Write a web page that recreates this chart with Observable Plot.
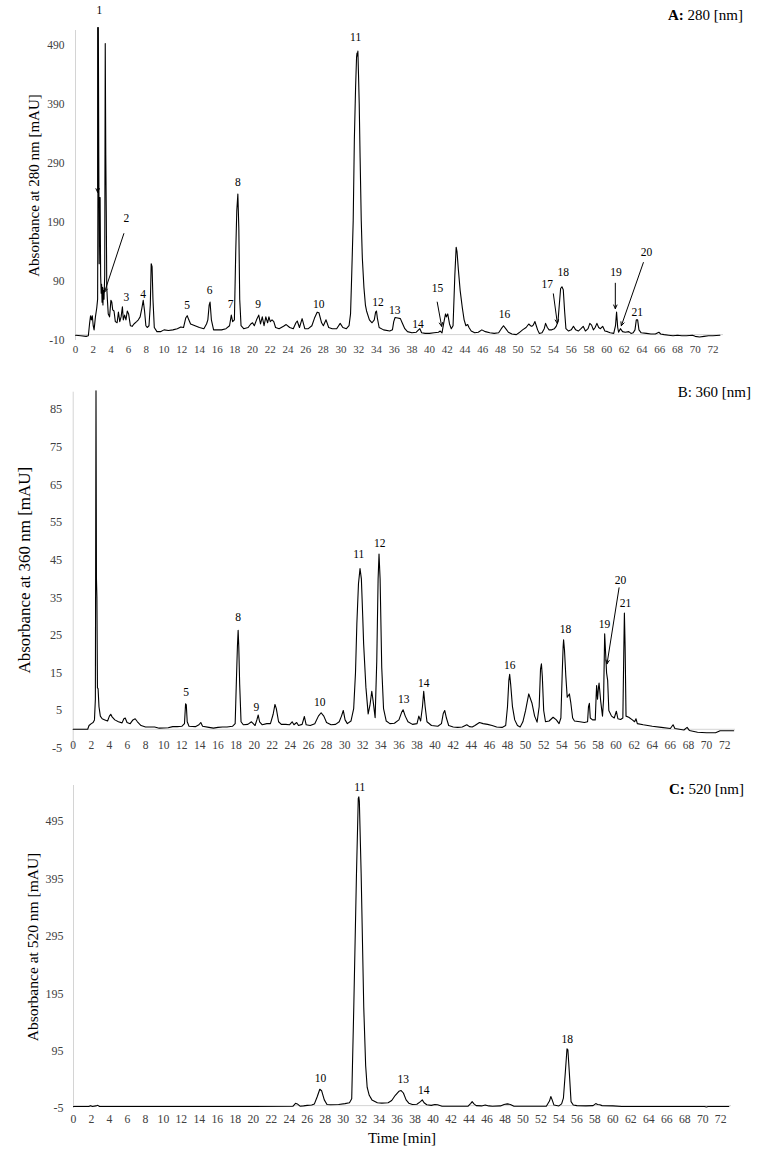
<!DOCTYPE html>
<html><head><meta charset="utf-8">
<script src="https://cdn.jsdelivr.net/npm/d3@7"></script>
<script src="https://cdn.jsdelivr.net/npm/@observablehq/plot@0.6"></script>
<style>
body{margin:0;background:#fff;}
#root{position:relative;width:760px;height:1152px;font-family:"Liberation Serif","Times New Roman",serif;color:#000;}
#root svg, #root svg text{font-family:"Liberation Serif","Times New Roman",serif !important;}
.ttl{position:absolute;font-size:15px;line-height:16px;white-space:nowrap;}
svg{display:block;overflow:visible;}
</style></head><body>
<div id="root">
  <div id="pA"></div><div id="pB"></div><div id="pC"></div>
  <div class="ttl" style="right:17px;top:7px"><b>A:</b> 280 [nm]</div>
  <div class="ttl" style="right:9px;top:384px">B: 360 [nm]</div>
  <div class="ttl" style="right:16px;top:781px"><b>C:</b> 520 [nm]</div>
  <div class="ttl" style="left:402px;top:1130px;transform:translateX(-50%)">Time [min]</div>
</div>
<script>
// ---------- data ----------
const timeTicks = d3.range(0, 73, 2);
const yTicksA = [-10, 90, 190, 290, 390, 490];
const yTicksB = [-5, 5, 15, 25, 35, 45, 55, 65, 75, 85];
const yTicksC = [-5, 95, 195, 295, 395, 495];

// chromatogram A (280 nm): [time min, absorbance mAU]
const traceA = [[0,-1],[0.6,-2],[1.2,-3],[1.45,-2],[1.6,20],[1.7,32],[1.8,25],[1.9,32],[2.0,15],[2.1,8],[2.25,30],[2.4,45],[2.5,60],[2.58,520],[2.63,300],[2.68,120],[2.72,232],[2.78,232],[2.84,100],[2.9,70],[2.95,85],[3.0,55],[3.05,80],[3.1,50],[3.15,75],[3.22,60],[3.3,100],[3.36,493],[3.42,306],[3.48,200],[3.53,80],[3.6,60],[3.7,35],[3.85,30],[4.0,58],[4.1,55],[4.2,42],[4.35,40],[4.5,22],[4.7,20],[4.85,38],[5.0,22],[5.15,30],[5.3,47],[5.4,25],[5.55,33],[5.7,25],[5.85,40],[6.0,35],[6.2,15],[6.4,14],[6.6,18],[6.9,22],[7.1,25],[7.3,30],[7.5,45],[7.65,58],[7.8,40],[7.95,15],[8.1,12],[8.3,15],[8.45,50],[8.55,120],[8.65,115],[8.75,60],[8.9,12],[9.2,5],[9.6,5],[10.0,8],[10.5,7],[11.0,8],[11.5,10],[11.9,13],[12.2,12],[12.45,28],[12.62,32],[12.8,25],[13.0,18],[13.5,15],[14.0,12],[14.5,10],[14.8,18],[14.95,25],[15.1,50],[15.2,55],[15.35,25],[15.6,8],[16.0,8],[16.5,8],[17.0,10],[17.4,15],[17.6,33],[17.75,22],[17.95,25],[18.1,140],[18.22,210],[18.34,238],[18.45,180],[18.55,60],[18.7,15],[19.0,10],[19.5,12],[19.8,18],[20.0,20],[20.2,15],[20.45,25],[20.7,33],[20.9,18],[21.1,30],[21.3,15],[21.5,30],[21.7,20],[21.85,30],[22.0,22],[22.2,25],[22.4,22],[22.6,12],[23.0,10],[23.5,14],[23.8,17],[24.2,12],[24.6,10],[24.9,20],[25.05,23],[25.3,12],[25.6,27],[25.9,10],[26.3,10],[26.7,15],[27.0,28],[27.3,38],[27.5,37],[27.8,20],[28.0,15],[28.3,25],[28.6,12],[29.0,10],[29.5,10],[29.9,19],[30.2,12],[30.6,10],[30.9,15],[31.07,35],[31.2,100],[31.37,193],[31.5,330],[31.64,419],[31.75,470],[31.8,477],[31.85,472],[31.9,480],[31.97,440],[32.05,391],[32.15,300],[32.28,193],[32.4,130],[32.58,80],[32.75,50],[32.88,40],[33.2,25],[33.5,20],[33.75,25],[33.9,38],[34.0,40],[34.1,28],[34.3,12],[34.8,8],[35.5,6],[35.8,8],[35.95,22],[36.1,29],[36.4,28],[36.7,27],[36.9,20],[37.2,10],[37.5,5],[38.0,3],[38.5,4],[38.75,8],[38.9,10],[39.1,3],[39.5,2],[40.0,2],[40.5,3],[41.0,4],[41.2,6],[41.4,3],[41.6,20],[41.8,35],[41.9,30],[42.05,35],[42.25,18],[42.45,10],[42.65,15],[42.85,100],[43.0,148],[43.1,140],[43.25,110],[43.45,75],[43.7,45],[43.9,25],[44.1,15],[44.3,17],[44.45,12],[44.7,6],[45.1,3],[45.5,4],[45.9,8],[46.3,5],[46.8,3],[47.3,2],[47.8,3],[48.1,10],[48.35,15],[48.6,10],[48.9,4],[49.3,1],[49.8,0],[50.1,3],[50.5,8],[50.9,12],[51.2,18],[51.4,15],[51.55,14],[51.7,16],[51.9,22],[52.05,15],[52.2,8],[52.4,2],[52.7,3],[52.95,10],[53.1,19],[53.3,12],[53.5,8],[53.8,8],[54.1,10],[54.3,14],[54.5,22],[54.65,50],[54.8,78],[54.95,81],[55.1,76],[55.25,40],[55.4,10],[55.7,6],[56.0,8],[56.25,14],[56.5,8],[56.8,6],[57.1,10],[57.35,14],[57.6,6],[57.9,10],[58.1,19],[58.3,16],[58.5,8],[58.7,12],[58.9,19],[59.1,12],[59.3,10],[59.55,14],[59.8,6],[60.1,5],[60.4,3],[60.8,2],[61.0,15],[61.12,38],[61.25,12],[61.35,4],[61.55,10],[61.8,5],[62.1,4],[62.5,5],[62.75,2],[63.0,3],[63.2,8],[63.35,25],[63.5,25],[63.65,8],[63.9,3],[64.5,2],[65.0,1],[65.5,1],[65.9,4],[66.1,1],[66.5,0],[67.0,-1],[67.5,-2],[68.0,-1],[68.5,-2],[69.0,-2],[69.7,-1],[70.0,-3],[70.5,-4],[71.0,-3],[71.5,-2],[72.0,-2],[72.8,-1]];

// chromatogram B (360 nm)
const traceB = [[0,0],[1.6,0],[1.75,1],[2.0,1.5],[2.2,1.8],[2.35,2.5],[2.45,8],[2.52,90],[2.57,40],[2.62,35],[2.68,11],[2.75,10.8],[2.85,6],[3.0,3.5],[3.2,2.8],[3.5,2.5],[3.8,2.2],[4.0,3.5],[4.15,4],[4.3,3.3],[4.6,2.5],[5.0,2],[5.4,1.7],[5.6,2.8],[5.75,3],[5.95,1.8],[6.3,1.5],[6.6,2.5],[6.85,2.8],[7.1,2],[7.5,1],[8.0,0.6],[9.0,0.6],[9.5,0.3],[10.5,0.4],[11.0,0.7],[11.5,0.7],[12.0,0.8],[12.3,1.5],[12.42,6.8],[12.5,6.5],[12.6,2],[12.8,0.8],[13.5,0.7],[13.9,1.2],[14.1,1.8],[14.3,0.8],[15.0,0.5],[15.5,0.3],[16.0,0.5],[16.5,0.6],[17.0,0.6],[17.6,0.8],[17.9,1.5],[18.05,14],[18.15,22],[18.23,26.3],[18.3,22],[18.4,12],[18.55,2],[18.8,1.2],[19.3,1.3],[19.7,2],[19.9,1.5],[20.1,1],[20.3,2.5],[20.45,3.8],[20.6,2],[20.9,1.2],[21.4,1.5],[21.8,1.5],[22.1,4],[22.3,6.6],[22.45,5.5],[22.7,2],[23.0,1.3],[23.5,1.3],[23.9,1.2],[24.2,2],[24.4,1.2],[24.7,1.8],[24.9,1.0],[25.3,1.3],[25.55,3.4],[25.75,1.2],[26.2,1],[26.7,1.5],[27.1,3.5],[27.4,4.4],[27.7,3.5],[28.0,1.8],[28.5,1.2],[29.0,1.3],[29.4,2],[29.65,3.5],[29.85,5],[30.05,2.5],[30.3,1.5],[30.7,2.2],[31.0,5.5],[31.2,15],[31.35,28],[31.53,38.7],[31.7,42.7],[31.85,40],[32.0,30],[32.1,22.7],[32.35,11.2],[32.6,4.1],[32.8,6.4],[33.0,10.1],[33.15,7.5],[33.37,3.1],[33.55,18],[33.7,40],[33.8,46.6],[33.92,40],[34.1,16.5],[34.3,5.5],[34.6,2.2],[35.0,1.5],[35.5,1.6],[36.0,2.5],[36.3,4.5],[36.46,5.2],[36.7,3.5],[37.0,2],[37.5,1.3],[38.0,1.5],[38.2,3.5],[38.4,2.2],[38.6,6],[38.74,10.1],[38.9,6],[39.1,2],[39.6,1],[40.3,0.8],[40.7,1.5],[40.9,4.2],[41.06,5],[41.25,3],[41.5,1],[42.0,0.6],[42.5,0.5],[43.0,0.6],[43.5,1.2],[43.8,0.7],[44.1,0.6],[44.4,1],[44.9,1.8],[45.3,1.5],[45.8,1.3],[46.3,1],[46.8,0.6],[47.4,0.5],[47.8,1],[48.0,6],[48.15,13],[48.24,14.6],[48.35,12],[48.55,6],[48.8,2.5],[49.1,1],[49.4,0.6],[49.7,2],[50.0,5],[50.35,9.4],[50.7,7],[51.0,3.5],[51.27,1.9],[51.5,6],[51.65,16],[51.75,17.4],[51.85,14],[52.0,5],[52.2,2],[52.6,2.2],[53.04,3.2],[53.4,2.5],[53.7,1.5],[53.9,3],[54.05,15],[54.15,22],[54.2,23.8],[54.3,21],[54.45,14],[54.6,8.5],[54.84,9.4],[55.0,7],[55.2,3],[55.4,2.2],[56.0,2],[56.5,1.8],[56.85,2],[56.95,6],[57.05,6.9],[57.15,3],[57.4,2.5],[57.7,2.5],[57.8,9],[57.85,11.6],[57.95,8],[58.05,11],[58.12,12.3],[58.3,7.5],[58.5,3.5],[58.62,8],[58.74,25.4],[58.85,20],[58.95,15],[59.07,13],[59.2,5],[59.5,3.5],[59.8,3],[60.03,4.8],[60.2,2.8],[60.5,2.6],[60.75,3],[60.85,20],[60.92,30.9],[61.0,22],[61.1,3.5],[61.4,3.2],[61.8,2.5],[62.05,2],[62.2,2.8],[62.35,1.5],[63.0,1.2],[64.0,0.8],[65.0,0.5],[66.0,0.2],[66.3,1.2],[66.5,0.2],[67.5,-0.2],[67.85,0.5],[68.1,-0.3],[69.0,-0.8],[70.0,-0.9],[71.0,-0.9],[71.5,-0.4],[73.0,-0.4]];

// chromatogram C (520 nm)
const traceC = [[0,-1.5],[1.7,-1.5],[1.9,0],[2.1,-1.5],[2.5,-0.5],[2.7,0.5],[2.9,-1.5],[10,-1.5],[20,-1.5],[24.4,-1.2],[24.7,4],[24.9,3],[25.2,-1],[25.6,-0.5],[26.0,0.5],[26.5,1],[26.8,3],[27.1,15],[27.4,28.6],[27.6,26],[27.9,10],[28.2,2],[28.6,1.5],[29.5,2],[30.2,3.5],[30.7,5],[30.95,12],[31.18,171],[31.48,404],[31.68,535],[31.74,538],[31.8,530],[32.0,404],[32.29,171],[32.5,70],[32.67,32],[32.9,18],[33.2,10],[33.8,5],[34.3,4.3],[35.0,5],[35.4,9],[35.8,18],[36.2,25],[36.45,26.3],[36.7,22],[37.0,10],[37.3,4.3],[37.7,2],[38.2,2.5],[38.6,7],[38.8,10],[39.0,5],[39.3,1.5],[39.8,0.5],[40.2,2],[40.5,1.5],[41.0,-1],[43.9,-1],[44.2,4],[44.35,7],[44.55,3],[44.8,0],[45.4,-0.5],[45.8,1],[46.2,-0.5],[46.6,-1],[47.5,-0.5],[47.9,2],[48.25,3],[48.6,2],[49.0,-1],[52.6,-1],[52.95,8],[53.1,15.8],[53.25,10],[53.45,1],[54.0,-0.5],[54.3,3],[54.5,13],[54.7,55],[54.9,99],[55.0,97],[55.15,60],[55.35,7],[55.6,1],[56.0,0],[57.0,-0.5],[57.8,0],[58.1,3.5],[58.3,2],[58.55,1.5],[58.8,0],[60.0,-0.5],[61.0,-1.5],[70.2,-1.5],[70.4,-2.5],[70.6,-1.5],[72.9,-1.5]];

// peak numbers: [label, time, absorbance]
const peaksA = [["1",2.71,549],["2",5.76,197],["3",5.76,63],["4",7.65,69],["5",12.62,49],["6",15.14,75],["7",17.51,51],["8",18.34,258],["9",20.63,51],["10",27.49,51],["11",31.64,504],["12",34.18,55],["13",36.05,41],["14",38.68,18],["15",40.9,78],["16",48.47,34],["17",53.29,85],["18",55.1,106],["19",61.05,106],["20",64.49,139],["21",63.47,37]];
const peaksB = [["5",12.49,9.9],["8",18.23,29.8],["9",20.25,5.9],["10",27.25,7.2],["11",31.56,46.4],["12",33.88,49.5],["13",36.53,7.9],["14",38.74,12.3],["16",48.24,17.1],["18",54.4,26.5],["19",58.71,27.8],["20",60.48,39.5],["21",61.03,33.5]];
const peaksC = [["10",27.47,48],["11",31.85,555],["13",36.67,45],["14",38.97,26],["18",54.92,115]];

// pointer arrows: [time1, abs1, time2, abs2]
const arrowsA = [[2.5,520,2.5,241],[5.46,171,3.28,72],[40.86,55,41.36,14],[53.98,69,54.43,19],[60.98,87,60.98,44],[64.15,122,61.66,15]];
const arrowsB = [[60.33,37.6,59.0,17.4]];
const arrowsC = [];

// ---------- drawing ----------
const FONT = "'Liberation Serif','Times New Roman',serif";
const plain = d => String(d);
function panel(cfg) {
  return Plot.plot({
    width: 760, height: cfg.height,
    marginTop: cfg.mt, marginBottom: cfg.mb, marginLeft: cfg.ml, marginRight: cfg.mr,
    style: `font-family: ${FONT}; background: white; overflow: visible;`,
    x: {domain: [0, 73.2], axis: null},
    y: {domain: cfg.yDomain, axis: null},
    marks: [
      Plot.ruleX([0], {stroke: "#d4d4d4", strokeWidth: 1}),
      Plot.ruleY([0], {stroke: "#d4d4d4", strokeWidth: 1}),
      Plot.axisX({ticks: timeTicks, tickFormat: plain, tickSize: 0, tickPadding: cfg.xPad, label: null, fontSize: cfg.xFont, fontFamily: FONT, color: "#404040"}),
      Plot.axisY({ticks: cfg.yTicks, tickFormat: plain, tickSize: 0, tickPadding: cfg.yPad, label: null, fontSize: cfg.yFont, fontFamily: FONT, color: "#404040"}),
      Plot.axisY({ticks: [], tickSize: 0, label: cfg.yLabel, labelAnchor: "center", labelArrow: "none", labelOffset: cfg.labelOffset, fontSize: cfg.labelFont, fontFamily: FONT, color: "#000"}),
      Plot.line(cfg.trace, {x: d => d[0], y: d => d[1], stroke: "#000", strokeWidth: 1.1}),
      Plot.arrow(cfg.arrows, {x1: d => d[0], y1: d => d[1], x2: d => d[2], y2: d => d[3], stroke: "#000", strokeWidth: 1, headLength: 6, headAngle: 50}),
      Plot.text(cfg.peaks, {x: d => d[1], y: d => d[2], text: d => d[0], fontSize: 11.5, fontFamily: FONT, fill: "#000"})
    ]
  });
}

document.getElementById("pA").append(panel({
  trace: traceA, peaks: peaksA, arrows: arrowsA, yTicks: yTicksA, yDomain: [-10, 515],
  yLabel: "Absorbance at 280 nm [mAU]", height: 362, mt: 30, mb: 22, ml: 75, mr: 37,
  xPad: 5, xFont: 11, yPad: 11, yFont: 11.5, labelFont: 15, labelOffset: 47
}));
document.getElementById("pB").append(panel({
  trace: traceB, peaks: peaksB, arrows: arrowsB, yTicks: yTicksB, yDomain: [-5, 89.6],
  yLabel: "Absorbance at 360 nm [mAU]", height: 403, mt: 29.7, mb: 17.4, ml: 72.7, mr: 25,
  xPad: -7, xFont: 11.5, yPad: 11, yFont: 12.3, labelFont: 17, labelOffset: 55
}));
document.getElementById("pC").append(panel({
  trace: traceC, peaks: peaksC, arrows: arrowsC, yTicks: yTicksC, yDomain: [-5, 557.7],
  yLabel: "Absorbance at 520 nm [mAU]", height: 387, mt: 20, mb: 44, ml: 73, mr: 29,
  xPad: 6.5, xFont: 11.7, yPad: 10, yFont: 12, labelFont: 15.5, labelOffset: 47
}));
</script>
</body></html>
